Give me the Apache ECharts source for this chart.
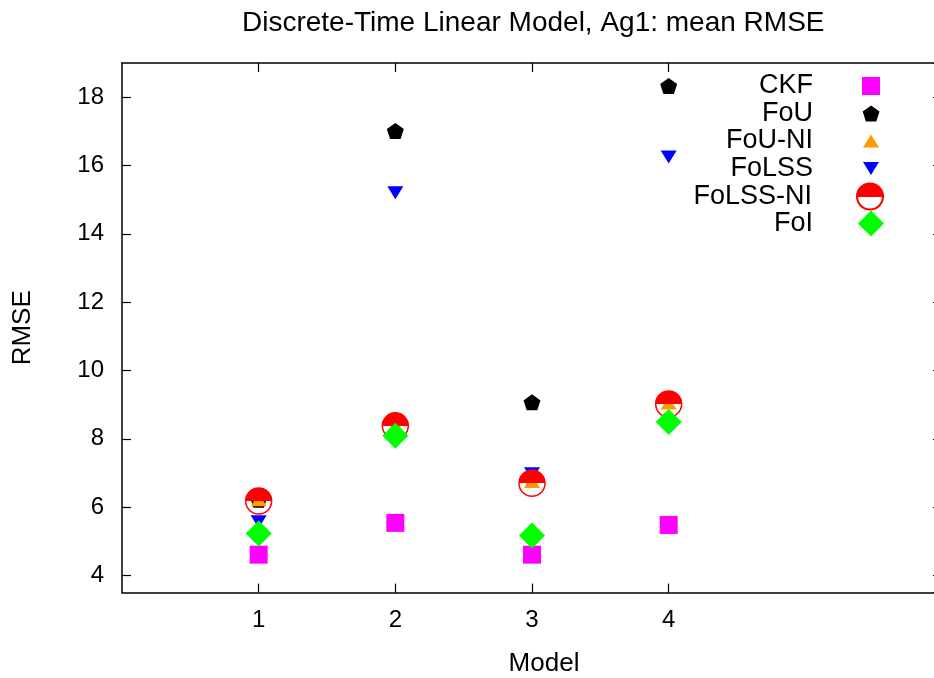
<!DOCTYPE html>
<html>
<head>
<meta charset="utf-8">
<title>Discrete-Time Linear Model, Ag1: mean RMSE</title>
<script src="https://cdn.jsdelivr.net/npm/echarts@6/dist/echarts.min.js"></script>
<style>
  html, body { margin: 0; padding: 0; background: #fff; }
  #main { width: 934px; height: 678px; }
</style>
</head>
<body>
<div id="main"></div>
<script>
// data
var models = ['1', '2', '3', '4'];
var xSlots = ['0', '1', '2', '3', '4', '5', '6'];
var seriesNames = ['CKF', 'FoU', 'FoU-NI', 'FoLSS', 'FoLSS-NI', 'FoI'];
var ckf     = [4.61, 5.54, 4.61, 5.48];
var fou     = [6.22, 17.01, 9.07, 18.33];
var fouNI   = [6.22, 8.40, 6.75, 9.05];
var folss   = [5.57, 15.20, 6.98, 16.25];
var folssNI = [6.18, 8.38, 6.70, 9.02];
var foi     = [5.23, 8.09, 5.17, 8.49];

var FONT = "'Liberation Sans', Arial, Helvetica, sans-serif";
var pentagon = 'path://M0,-10L9.51,-3.09L5.88,8.09L-5.88,8.09L-9.51,-3.09Z';
var triDown = 'path://M0,0L16,0L8,13Z';
var halfRed = new echarts.graphic.LinearGradient(0, 0, 0, 1, [
    { offset: 0, color: '#ff0000' },
    { offset: 0.5, color: '#ff0000' },
    { offset: 0.5, color: 'rgba(255,255,255,0)' },
    { offset: 1, color: 'rgba(255,255,255,0)' }
]);

// marker looks, one per series
var looks = [
    { symbol: 'rect', size: [18, 18], style: { color: '#ff00ff', opacity: 1 } },
    { symbol: pentagon, size: [17, 16], style: { color: '#000000', opacity: 1 } },
    { symbol: 'triangle', size: [16, 13], style: { color: '#ff9a00', opacity: 1 } },
    { symbol: triDown, size: [16, 13], style: { color: '#0000ff', opacity: 1 } },
    { symbol: 'circle', size: [26, 26], style: { color: halfRed, borderColor: '#ff0000', borderWidth: 1.5, opacity: 1 } },
    { symbol: 'diamond', size: [26, 26], style: { color: '#00ff00', opacity: 1 } }
];
var values = [ckf, fou, fouNI, folss, folssNI, foi];

function pairs(vals) {
    var out = [];
    for (var i = 0; i < models.length; i++) {
        out.push([models[i], vals[i]]);
    }
    return out;
}

function showModel(idx, val) {
    return models.indexOf(val) >= 0;
}

function initchart() {
    var myChart = echarts.init(document.getElementById('main'), null, { renderer: 'canvas' });

    var series = [];
    var legends = [];
    var rowY = [86, 113.5, 141, 168.5, 196, 223.5];
    for (var i = 0; i < seriesNames.length; i++) {
        var lk = looks[i];
        series.push({
            name: seriesNames[i],
            type: 'scatter',
            xAxisIndex: 0,
            yAxisIndex: 0,
            symbol: lk.symbol,
            symbolSize: lk.size,
            symbolKeepAspect: false,
            itemStyle: lk.style,
            emphasis: { disabled: true },
            data: pairs(values[i])
        });
        // one legend per entry so every key keeps its own marker size
        legends.push({
            data: [seriesNames[i]],
            orient: 'vertical',
            align: 'right',
            right: 934 - (871 + lk.size[0] / 2),
            top: rowY[i] - 13.5,
            padding: 0,
            itemWidth: lk.size[0],
            itemHeight: lk.size[1],
            selectedMode: false,
            textStyle: {
                fontFamily: FONT,
                fontSize: 27,
                lineHeight: 27,
                color: '#000',
                padding: [0, 53 - lk.size[0] / 2, 0, 0]
            }
        });
    }

    var axisLine = { show: true, lineStyle: { color: '#000', width: 1.5 } };

    var option = {
        animation: false,
        backgroundColor: '#fff',
        title: {
            text: 'Discrete-Time Linear Model, Ag1: mean RMSE',
            left: 237,
            top: 4,
            textStyle: { fontFamily: FONT, fontSize: 28, fontWeight: 'normal', color: '#000' }
        },
        legend: legends,
        grid: { left: 122, right: -8, top: 63, bottom: 85.4, outerBoundsMode: 'none', containLabel: false },
        xAxis: [{
            type: 'category',
            data: xSlots,
            boundaryGap: false,
            position: 'bottom',
            name: 'Model',
            nameLocation: 'middle',
            nameGap: 58,
            nameTextStyle: { fontFamily: FONT, fontSize: 26, color: '#000', padding: [0, 0, 0, 24] },
            axisLine: axisLine,
            axisTick: { show: true, inside: true, length: 9, interval: showModel, lineStyle: { color: '#000', width: 1.2 } },
            axisLabel: { show: true, interval: showModel, margin: 16, fontFamily: FONT, fontSize: 24, color: '#000' },
            splitLine: { show: false }
        }, {
            type: 'category',
            data: xSlots,
            boundaryGap: false,
            position: 'top',
            axisLine: axisLine,
            axisTick: { show: true, inside: true, length: 9, interval: showModel, lineStyle: { color: '#000', width: 1.2 } },
            axisLabel: { show: false },
            splitLine: { show: false }
        }],
        yAxis: [{
            type: 'value',
            min: 3.5,
            max: 19,
            splitNumber: 8,
            position: 'left',
            name: 'RMSE',
            nameLocation: 'middle',
            nameGap: 86,
            nameTextStyle: { fontFamily: FONT, fontSize: 26, color: '#000' },
            axisLine: axisLine,
            axisTick: { show: true, inside: true, length: 9, lineStyle: { color: '#000', width: 1.2 } },
            axisLabel: { showMinLabel: false, showMaxLabel: false, margin: 18, fontFamily: FONT, fontSize: 24, color: '#000' },
            splitLine: { show: false }
        }, {
            type: 'value',
            min: 3.5,
            max: 19,
            splitNumber: 8,
            position: 'right',
            axisLine: axisLine,
            axisTick: { show: true, inside: true, length: 9, lineStyle: { color: '#000', width: 1.2 } },
            axisLabel: { show: false },
            splitLine: { show: false }
        }],
        series: series
    };
    myChart.setOption(option);
}

window.onload = initchart;
</script>
</body>
</html>
